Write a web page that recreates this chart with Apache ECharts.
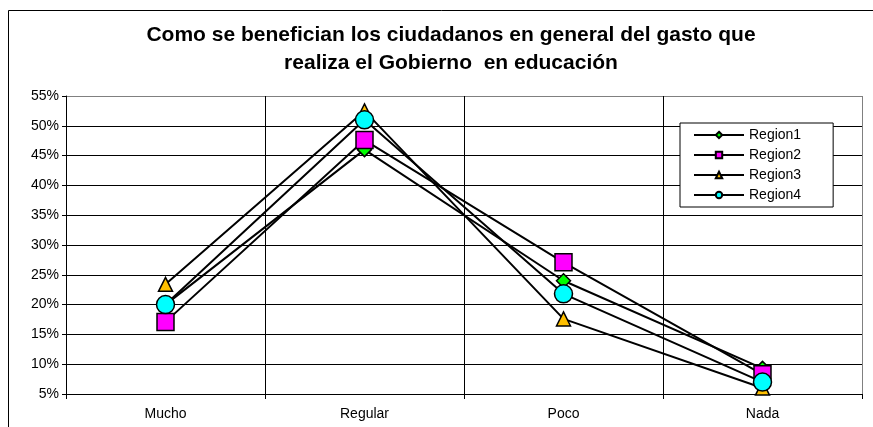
<!DOCTYPE html>
<html><head><meta charset="utf-8">
<script src="https://cdn.jsdelivr.net/npm/echarts@6/dist/echarts.min.js"></script>
<style>html,body{margin:0;padding:0;background:#fff}#c{width:873px;height:427px}</style>
</head><body><div id="c"></div>
<script>
const titleLines = ['Como se benefician los ciudadanos en general del gasto que', 'realiza el Gobierno  en educación'];
const categories = ['Mucho', 'Regular', 'Poco', 'Nada'];
const region1 = [20, 46, 24, 9.3];
const region2 = [17.1, 47.6, 27.1, 8.3];
const region3 = [23.4, 52.5, 17.6, 6];
const region4 = [20, 51, 21.8, 7];
const seriesNames = ['Region1', 'Region2', 'Region3', 'Region4'];
const yTicks = [5, 10, 15, 20, 25, 30, 35, 40, 45, 50, 55];

const font = '"Liberation Sans", Arial, sans-serif';
const chart = echarts.init(document.getElementById('c'), null, {renderer: 'canvas'});
const styles = [
  {symbol: 'diamond', size: 14, color: '#00ff00'},
  {symbol: 'rect', size: 17, color: '#ff00ff'},
  {symbol: 'triangle', size: 14, color: '#ffc000'},
  {symbol: 'circle', size: 18, color: '#00ffff'}
];
const data = [region1, region2, region3, region4];
const hColors = yTicks.map((v, i) => i === yTicks.length - 1 ? '#808080' : '#000');
chart.setOption({
  backgroundColor: '#fff',
  animation: false,
  title: {
    text: titleLines.join('\n'),
    left: 446, textAlign: 'center', top: 16,
    textStyle: {fontFamily: font, fontSize: 21, fontWeight: 'bold', color: '#000', lineHeight: 28}
  },
  graphic: [{type: 'rect', shape: {x: 8.5, y: 10.5, width: 900, height: 500}, style: {fill: null, stroke: '#000', lineWidth: 1}, z: 0}],
  legend: {
    orient: 'vertical', left: 680, top: 123,
    padding: [5, 32, 5, 13], itemGap: 6,
    itemWidth: 50, itemHeight: 8,
    backgroundColor: '#fff', borderColor: '#000', borderWidth: 1,
    textStyle: {fontFamily: font, fontSize: 14, color: '#000'},
    data: seriesNames
  },
  grid: {left: 66, right: 11, top: 96, bottom: 33, show: false},
  xAxis: {
    type: 'category', data: categories, boundaryGap: true,
    axisLine: {lineStyle: {color: '#000', width: 1}},
    axisTick: {show: true, length: 5, alignWithLabel: false, lineStyle: {color: '#000'}},
    axisLabel: {fontFamily: font, fontSize: 14, color: '#000', margin: 13},
    splitLine: {show: true, lineStyle: {color: ['#000', '#000', '#000', '#000', '#808080'], width: 1}}
  },
  yAxis: {
    type: 'value', min: 5, max: 55, interval: 5,
    axisLine: {show: true, lineStyle: {color: '#000', width: 1}},
    axisTick: {show: true, length: 4, lineStyle: {color: '#000'}},
    axisLabel: {fontFamily: font, fontSize: 14, color: '#000', margin: 7, formatter: '{value}%'},
    splitLine: {show: true, lineStyle: {color: hColors, width: 1}}
  },
  series: seriesNames.map((n, i) => ({
    name: n, type: 'line', data: data[i],
    symbol: styles[i].symbol, symbolSize: styles[i].size,
    lineStyle: {color: '#000', width: 2},
    itemStyle: {color: styles[i].color, borderColor: '#000', borderWidth: 1.5},
    z: 2 + i
  }))
});
</script></body></html>
